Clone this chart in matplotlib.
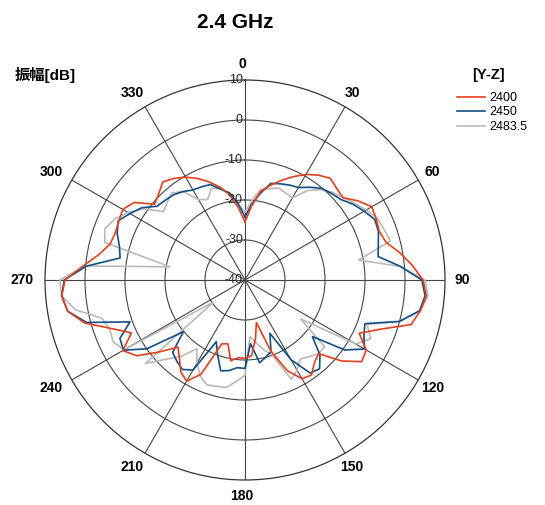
import numpy as np
import matplotlib
matplotlib.use("Agg")
import matplotlib.pyplot as plt
import matplotlib.transforms as mtransforms

plt.rcParams["font.family"] = ["Liberation Sans", "Noto Sans CJK JP", "DejaVu Sans"]

# measurement angles (deg, clockwise from top)
angles = np.arange(0, 360, 5)

# gain [dB] per frequency
gain_2400 = [
    -25.5, -21.5, -17.5, -15.5, -13.5, -11.5, -9.5, -8.0, -6.8, -7.6, -8.0, -5.5,
    -3.4, -3.8, -4.3, -3.5, -0.7, 2.0, 4.5, 5.5, 4.5, 3.0, -4.0, -8.5,
    -5.0, -4.4, -8.5, -14.0, -13.0, -11.0, -11.5, -15.0, -21.0, -29.0, -25.0, -21.0,
    -20.4, -20.5, -19.5, -23.5, -23.0, -14.0, -10.8, -12.0, -14.5, -16.3, -12.0, -7.0,
    -4.7, -8.7, -4.5, 1.5, 5.0, 6.0, 5.0, 0.6, -3.0, -5.1, -5.5, -5.2,
    -4.7, -6.2, -10.5, -9.5, -8.0, -9.0, -10.3, -12.0, -13.9, -16.0, -18.5, -22.0,
]
gain_2450 = [
    -24.2, -21.0, -18.0, -15.0, -14.4, -13.8, -13.3, -11.7, -10.1, -9.4, -8.7, -7.0,
    -5.6, -4.2, -4.5, -5.5, -6.2, -1.0, 4.2, 5.2, 4.3, 0.0, -8.1, -7.2,
    -5.5, -9.5, -18.0, -13.5, -11.0, -11.6, -17.0, -25.3, -21.0, -20.0, -19.0, -24.0,
    -17.9, -18.0, -17.0, -16.5, -20.0, -23.0, -14.0, -12.7, -13.5, -14.4, -19.9, -10.0,
    -4.9, -5.5, -9.4, 1.0, 5.0, 6.0, 5.2, -0.2, -8.3, -7.5, -6.0, -5.0,
    -6.8, -8.5, -11.3, -11.8, -12.2, -13.0, -14.0, -14.3, -14.6, -16.5, -17.9, -21.0,
]
gain_2483 = [
    -23.0, -20.0, -17.0, -16.4, -15.5, -16.0, -16.3, -12.7, -10.5, -9.0, -8.0, -6.5,
    -5.0, -3.5, -3.0, -2.4, -11.2, -1.0, 5.0, 5.9, 4.5, 0.0, -7.5, -5.3,
    -8.0, -23.0, -14.0, -14.0, -15.0, -15.9, -14.0, -12.6, -20.0, -22.0, -24.0, -25.8,
    -16.2, -14.5, -12.7, -12.5, -12.1, -13.5, -16.0, -19.0, -15.0, -12.0, -7.5, -30.4,
    -5.0, -3.6, -4.0, -3.0, 3.0, 6.0, 6.3, 0.2, -21.0, -3.7, -2.7, -4.0,
    -6.2, -9.0, -13.4, -12.5, -11.6, -13.0, -16.8, -17.8, -15.6, -16.4, -18.0, -21.0,
]
series = [("2400", gain_2400, "#e2401c"), ("2450", gain_2450, "#114f86"),
          ("2483.5", gain_2483, "#b9b9b9")]

r_ticks = [10, 0, -10, -20, -30, -40]
theta_ticks = np.arange(0, 360, 30)

fig = plt.figure(figsize=(5.45, 5.05), dpi=100)
ax = fig.add_axes([45 / 545, 25 / 505, 400 / 545, 400 / 505], projection="polar")
ax.set_theta_zero_location("N")
ax.set_theta_direction(-1)

# gray drawn first, then blue, red on top
for label, vals, color in series[::-1]:
    th = np.radians(np.append(angles, angles[0]))
    rr = np.append(vals, vals[0])
    ax.plot(th, rr, color=color, lw=1.2, label=label, zorder=3)

ax.set_rlim(-40, 10)
ax.set_yticks([-30, -20, -10, 0])
ax.set_yticklabels([])
ax.set_thetagrids(theta_ticks, [""] * len(theta_ticks))
ax.grid(True, color="#444444", lw=0.8)
ax.spines["polar"].set_color("#333333")
ax.spines["polar"].set_linewidth(0.9)

# angle labels sit on a slightly squashed ring outside the plot
for t in theta_ticks:
    a = np.radians(t)
    x = 0.5 + (-3 + 220 * np.sin(a)) / 400
    y = 0.5 + 216 * np.cos(a) / 400
    ax.text(x, y, str(t), transform=ax.transAxes, ha="center", va="center",
            fontsize=10, fontweight="bold", clip_on=False)

# radial labels along the 0 deg spoke
off = mtransforms.offset_copy(ax.transData, fig=fig, x=-1.5, y=0, units="points")
for v in r_ticks:
    ax.text(0, v, str(v), transform=off, ha="right", va="center",
            fontsize=9, color="#222222", zorder=4)

fig.text(235 / 545, 1 - 22 / 505, "2.4 GHz", ha="center", va="center",
         fontsize=15, fontweight="bold")
fig.text(15 / 545, 1 - 75 / 505, "振幅[dB]", ha="left", va="center",
         fontsize=11, fontweight="bold")
fig.text(488 / 545, 1 - 75 / 505, "[Y-Z]", ha="center", va="center",
         fontsize=10.5, fontweight="bold")

handles, labels = ax.get_legend_handles_labels()
fig.legend(handles[::-1], labels[::-1], loc="upper left",
           bbox_to_anchor=(452 / 545, 1 - 87 / 505), frameon=False,
           fontsize=9, handlelength=2.2, handletextpad=0.4,
           labelspacing=0.2, borderaxespad=0)

fig.savefig("out.png", dpi=100)
plt.close(fig)
